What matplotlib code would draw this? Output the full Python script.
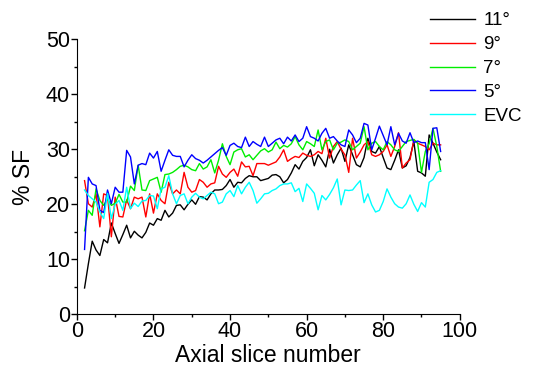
import numpy as np
import matplotlib
matplotlib.use("Agg")
import matplotlib.pyplot as plt
from matplotlib.ticker import MultipleLocator

plt.rcParams['font.family'] = ['Liberation Sans', 'DejaVu Sans']

slices = np.arange(2, 96)

sf_11 = [4.8, 9.2, 13.3, 11.7, 10.7, 13.6, 13.0, 16.6, 14.7, 12.9,
         14.5, 16.2, 13.9, 15.1, 14.4, 13.9, 14.9, 16.6, 16.2, 17.4,
         17.1, 18.9, 17.7, 18.4, 19.8, 19.9, 19.0, 20.0, 20.8, 20.0,
         21.4, 21.3, 20.8, 21.9, 22.6, 22.6, 22.7, 23.4, 24.5, 23.1,
         24.0, 23.9, 24.7, 25.2, 25.0, 25.0, 24.3, 24.5, 24.7, 25.3,
         25.4, 25.0, 23.9, 24.5, 25.7, 27.2, 26.4, 27.8, 28.5, 29.9,
         27.0, 29.0, 28.0, 26.8, 30.0, 27.5, 29.0, 30.2, 27.8, 30.8,
         29.0, 27.2, 26.8, 28.5, 32.0, 29.6, 29.3, 30.5, 28.5, 26.6,
         26.3, 28.0, 29.9, 26.6, 27.0, 28.5, 31.4, 26.0, 25.7, 25.1,
         32.6, 31.1, 29.5, 28.1]

sf_9 = [24.3, 20.1, 19.5, 21.9, 15.9, 21.9, 21.6, 14.1, 21.3, 17.8,
        17.7, 20.8, 19.2, 21.3, 21.0, 21.3, 17.7, 21.9, 18.4, 21.9,
        20.7, 20.1, 24.0, 21.9, 22.6, 21.9, 25.8, 23.1, 22.2, 22.5,
        24.5, 24.0, 23.1, 23.7, 23.9, 26.9, 25.5, 24.9, 25.8, 26.4,
        25.1, 27.7, 26.8, 26.9, 25.2, 27.4, 27.4, 27.4, 27.1, 27.4,
        27.7, 28.6, 29.9, 27.8, 28.3, 28.7, 28.5, 29.3, 28.9, 28.7,
        29.0, 29.6, 29.2, 32.0, 28.4, 30.5, 31.4, 30.0, 29.0, 25.8,
        32.0, 28.4, 29.5, 30.8, 31.4, 29.0, 28.7, 29.0, 29.6, 30.8,
        28.7, 30.5, 33.0, 26.6, 27.5, 28.1, 31.7, 31.1, 30.8, 30.5,
        29.9, 31.1, 30.8, 30.8]

sf_7 = [15.2, 18.9, 18.0, 22.8, 20.7, 19.8, 21.0, 19.8, 20.2, 21.8,
        20.4, 20.4, 23.3, 22.5, 27.1, 22.6, 22.5, 24.3, 24.6, 24.9,
        22.2, 25.4, 25.5, 25.8, 26.3, 26.9, 27.1, 26.8, 26.3, 26.1,
        27.4, 26.4, 26.8, 28.1, 25.7, 28.0, 31.0, 28.7, 27.2, 29.5,
        29.9, 30.1, 28.6, 29.0, 28.1, 28.9, 29.7, 30.1, 29.5, 29.9,
        31.3, 30.1, 30.7, 30.4, 31.0, 32.3, 30.8, 29.9, 31.4, 31.0,
        30.5, 33.5, 29.9, 31.4, 31.7, 29.9, 31.1, 31.3, 31.7, 31.4,
        29.9, 30.5, 31.1, 34.1, 29.9, 31.1, 31.4, 30.5, 29.9, 31.4,
        30.8, 29.9, 29.6, 30.5, 31.4, 31.6, 31.8, 31.1, 25.8, 29.6,
        31.0, 33.8, 30.5, 26.0]

sf_5 = [11.8, 24.9, 23.7, 23.4, 18.9, 18.5, 22.6, 20.1, 23.1, 22.2,
        22.2, 29.8, 28.6, 23.7, 27.1, 27.4, 27.2, 29.3, 28.4, 29.6,
        26.0, 28.0, 29.9, 28.9, 28.7, 28.7, 26.8, 28.0, 29.0, 28.3,
        28.0, 27.5, 28.0, 28.6, 29.2, 29.8, 30.3, 28.9, 30.7, 31.1,
        30.5, 30.3, 32.2, 30.5, 31.4, 30.9, 30.5, 32.2, 30.5, 31.1,
        31.7, 32.0, 31.0, 32.2, 31.5, 32.6, 31.4, 32.0, 34.1, 32.3,
        32.0, 31.5, 32.9, 33.8, 32.0, 32.3, 31.5, 30.8, 30.5, 33.5,
        32.6, 31.2, 32.0, 34.7, 34.4, 29.9, 32.0, 34.2, 32.5, 30.8,
        34.1, 30.8, 32.9, 31.5, 31.1, 33.0, 31.2, 31.5, 31.2, 31.2,
        26.3, 33.8, 33.9, 29.6]

sf_evc = [22.6, 21.6, 21.0, 20.4, 18.6, 17.4, 22.0, 17.4, 20.0, 20.7,
          18.9, 23.1, 19.2, 20.2, 19.6, 20.6, 20.7, 21.6, 21.5, 19.2,
          22.8, 23.1, 25.2, 21.9, 20.1, 21.6, 21.9, 20.1, 21.3, 22.0,
          21.3, 21.0, 21.6, 22.2, 21.9, 20.1, 20.4, 21.9, 22.5, 21.4,
          23.4, 21.9, 23.1, 24.0, 22.5, 20.2, 21.0, 21.9, 22.0, 22.5,
          22.8, 23.4, 23.7, 23.7, 23.9, 22.3, 22.9, 20.5, 23.7, 22.9,
          22.0, 19.0, 21.6, 20.8, 21.8, 23.0, 24.6, 19.9, 22.6, 22.5,
          22.6, 23.5, 24.3, 20.3, 21.9, 19.9, 18.6, 18.9, 20.5, 22.8,
          21.3, 20.1, 19.5, 19.3, 20.1, 21.7, 20.0, 18.7, 20.3, 19.5,
          24.0, 24.5, 25.8, 26.1]

labels = ["11°", "9°", "7°", "5°", "EVC"]
series = [sf_11, sf_9, sf_7, sf_5, sf_evc]
colors = ["#000000", "#ff0000", "#00ee00", "#0000ff", "#00ffff"]

fig = plt.figure(figsize=(5.34, 3.66), dpi=100)
ax = fig.add_axes([0.144, 0.141, 0.717, 0.752])

for vals, lab, c in zip(series, labels, colors):
    ax.plot(slices[:len(vals)], vals, color=c, lw=1.0, label=lab)

ax.set_xlim(0, 100)
ax.set_ylim(0, 50)
ax.xaxis.set_major_locator(MultipleLocator(20))
ax.xaxis.set_minor_locator(MultipleLocator(10))
ax.yaxis.set_major_locator(MultipleLocator(10))
ax.yaxis.set_minor_locator(MultipleLocator(5))
ax.tick_params(which='major', direction='out', length=4, width=1, labelsize=15.5, pad=1)
ax.tick_params(which='minor', direction='out', length=2.5, width=1)
ax.spines['top'].set_visible(False)
ax.spines['right'].set_visible(False)
ax.set_xlabel("Axial slice number", fontsize=16.5, labelpad=1)
ax.set_ylabel("% SF", fontsize=16.5, labelpad=8)

leg = fig.legend(loc='upper right', bbox_to_anchor=(1.0, 1.0), frameon=False,
                 fontsize=13.5, handlelength=2.4, handletextpad=0.45,
                 labelspacing=0.36, borderaxespad=0.25)
for h in leg.get_lines():
    h.set_linewidth(1.0)

fig.savefig("out.png", dpi=100)
